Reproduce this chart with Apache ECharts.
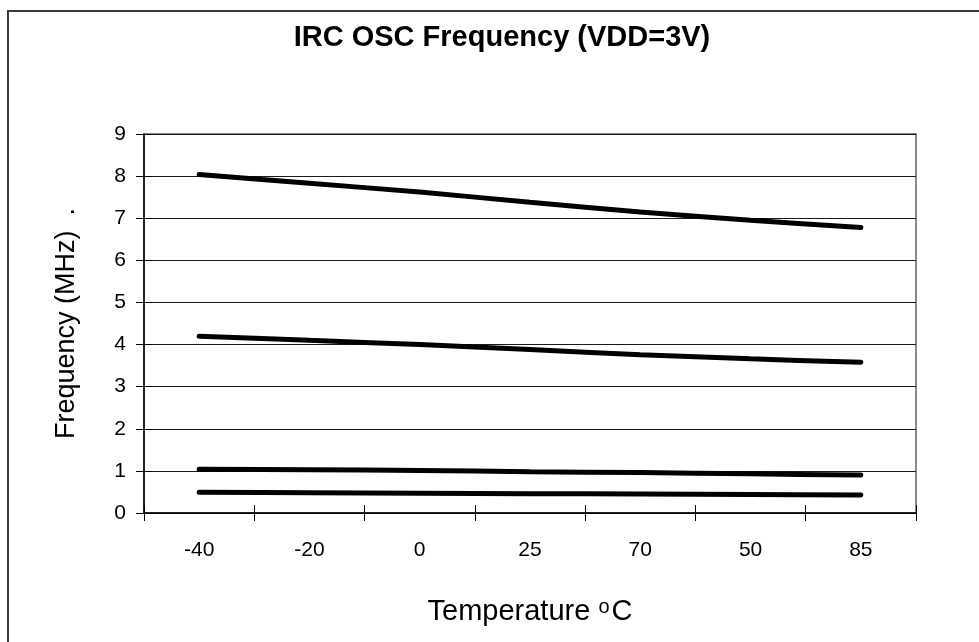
<!DOCTYPE html>
<html>
<head>
<meta charset="utf-8">
<script src="https://cdn.jsdelivr.net/npm/echarts@6/dist/echarts.min.js"></script>
<style>
  html, body { margin: 0; padding: 0; background: #fff; }
  #chart { width: 979px; height: 642px; }
</style>
</head>
<body>
<div id="chart"></div>
<script>
// temperature points as printed on the axis (order kept as in the original)
const temps = ["-40", "-20", "0", "25", "70", "50", "85"];
// frequency curves, MHz
const freq8M = [8.04, 7.83, 7.62, 7.38, 7.15, 6.95, 6.78];
const freq4M = [4.20, 4.10, 4.00, 3.88, 3.76, 3.66, 3.58];
const freq1M = [1.04, 1.03, 1.01, 0.98, 0.96, 0.93, 0.90];
const freq500k = [0.49, 0.48, 0.47, 0.46, 0.45, 0.44, 0.43];

const font = "'Liberation Sans', Arial, sans-serif";
const plotWidth = 979 - 144 - 63;

function line(data) {
  return {
    type: "line",
    data: data,
    smooth: 0.3,
    symbol: "none",
    lineStyle: { color: "#000", width: 5, cap: "round" }
  };
}

// invisible axis line, the second axes only add the inner half of the crossing ticks
const hiddenLine = { show: true, lineStyle: { color: "rgba(0,0,0,0)", width: 1 } };

const chart = echarts.init(document.getElementById("chart"));
chart.setOption({
  animation: false,
  backgroundColor: "#fff",
  textStyle: { fontFamily: font },
  graphic: [{
    type: "rect",
    shape: { x: 8, y: 11, width: 1200, height: 1000 },
    style: { fill: "none", stroke: "#3a3a3a", lineWidth: 2 },
    z: 0
  }],
  title: {
    text: "IRC OSC Frequency (VDD=3V)",
    left: 497,
    textAlign: "center",
    top: 18,
    textStyle: { fontFamily: font, fontSize: 29, fontWeight: "bold", color: "#000" }
  },
  grid: {
    left: 144, right: 63, top: 134, bottom: 129,
    show: true, borderColor: "#8a8a8a", borderWidth: 2, backgroundColor: "#fff"
  },
  xAxis: [{
    type: "category",
    data: temps,
    boundaryGap: true,
    axisLine: { lineStyle: { color: "#000", width: 1.5 } },
    axisTick: { show: true, length: 8, lineStyle: { color: "#000" } },
    axisLabel: { color: "#000", fontSize: 21, margin: 27, fontFamily: font },
    name: "Temperature {sup|o}C",
    nameLocation: "middle",
    nameGap: 84,
    nameTextStyle: {
      color: "#000", fontSize: 29, fontFamily: font, lineHeight: 30,
      rich: { sup: { fontSize: 20, verticalAlign: "top", lineHeight: 30, color: "#000", fontFamily: font, padding: [0, 2, 0, 0] } }
    }
  }, {
    // goes to the top slot, then onZero drops it onto the bottom axis; ticks point up
    type: "category",
    data: temps,
    position: "top",
    boundaryGap: true,
    axisLine: hiddenLine,
    axisTick: { show: true, length: 8, lineStyle: { color: "#000", width: 1 } },
    axisLabel: { show: false }
  }],
  yAxis: [{
    type: "value",
    min: 0, max: 9, interval: 1,
    axisLine: { show: true, lineStyle: { color: "#000", width: 1.5 } },
    axisTick: { show: true, length: 8, lineStyle: { color: "#000" } },
    axisLabel: { color: "#000", fontSize: 21, margin: 18, fontFamily: font },
    splitLine: { show: true, lineStyle: { color: "#1a1a1a", width: 1 } },
    name: "Frequency (MHz)  .",
    nameLocation: "middle",
    nameGap: 64,
    nameTextStyle: { color: "#000", fontSize: 27, fontFamily: font }
  }, {
    // right-side axis pulled back onto the left edge; ticks point into the plot
    type: "value",
    position: "right",
    offset: -plotWidth,
    min: 0, max: 9, interval: 1,
    axisLine: hiddenLine,
    axisTick: { show: true, length: 8, lineStyle: { color: "#000", width: 1 } },
    axisLabel: { show: false },
    splitLine: { show: false }
  }],
  series: [line(freq8M), line(freq4M), line(freq1M), line(freq500k)]
});
</script>
</body>
</html>
